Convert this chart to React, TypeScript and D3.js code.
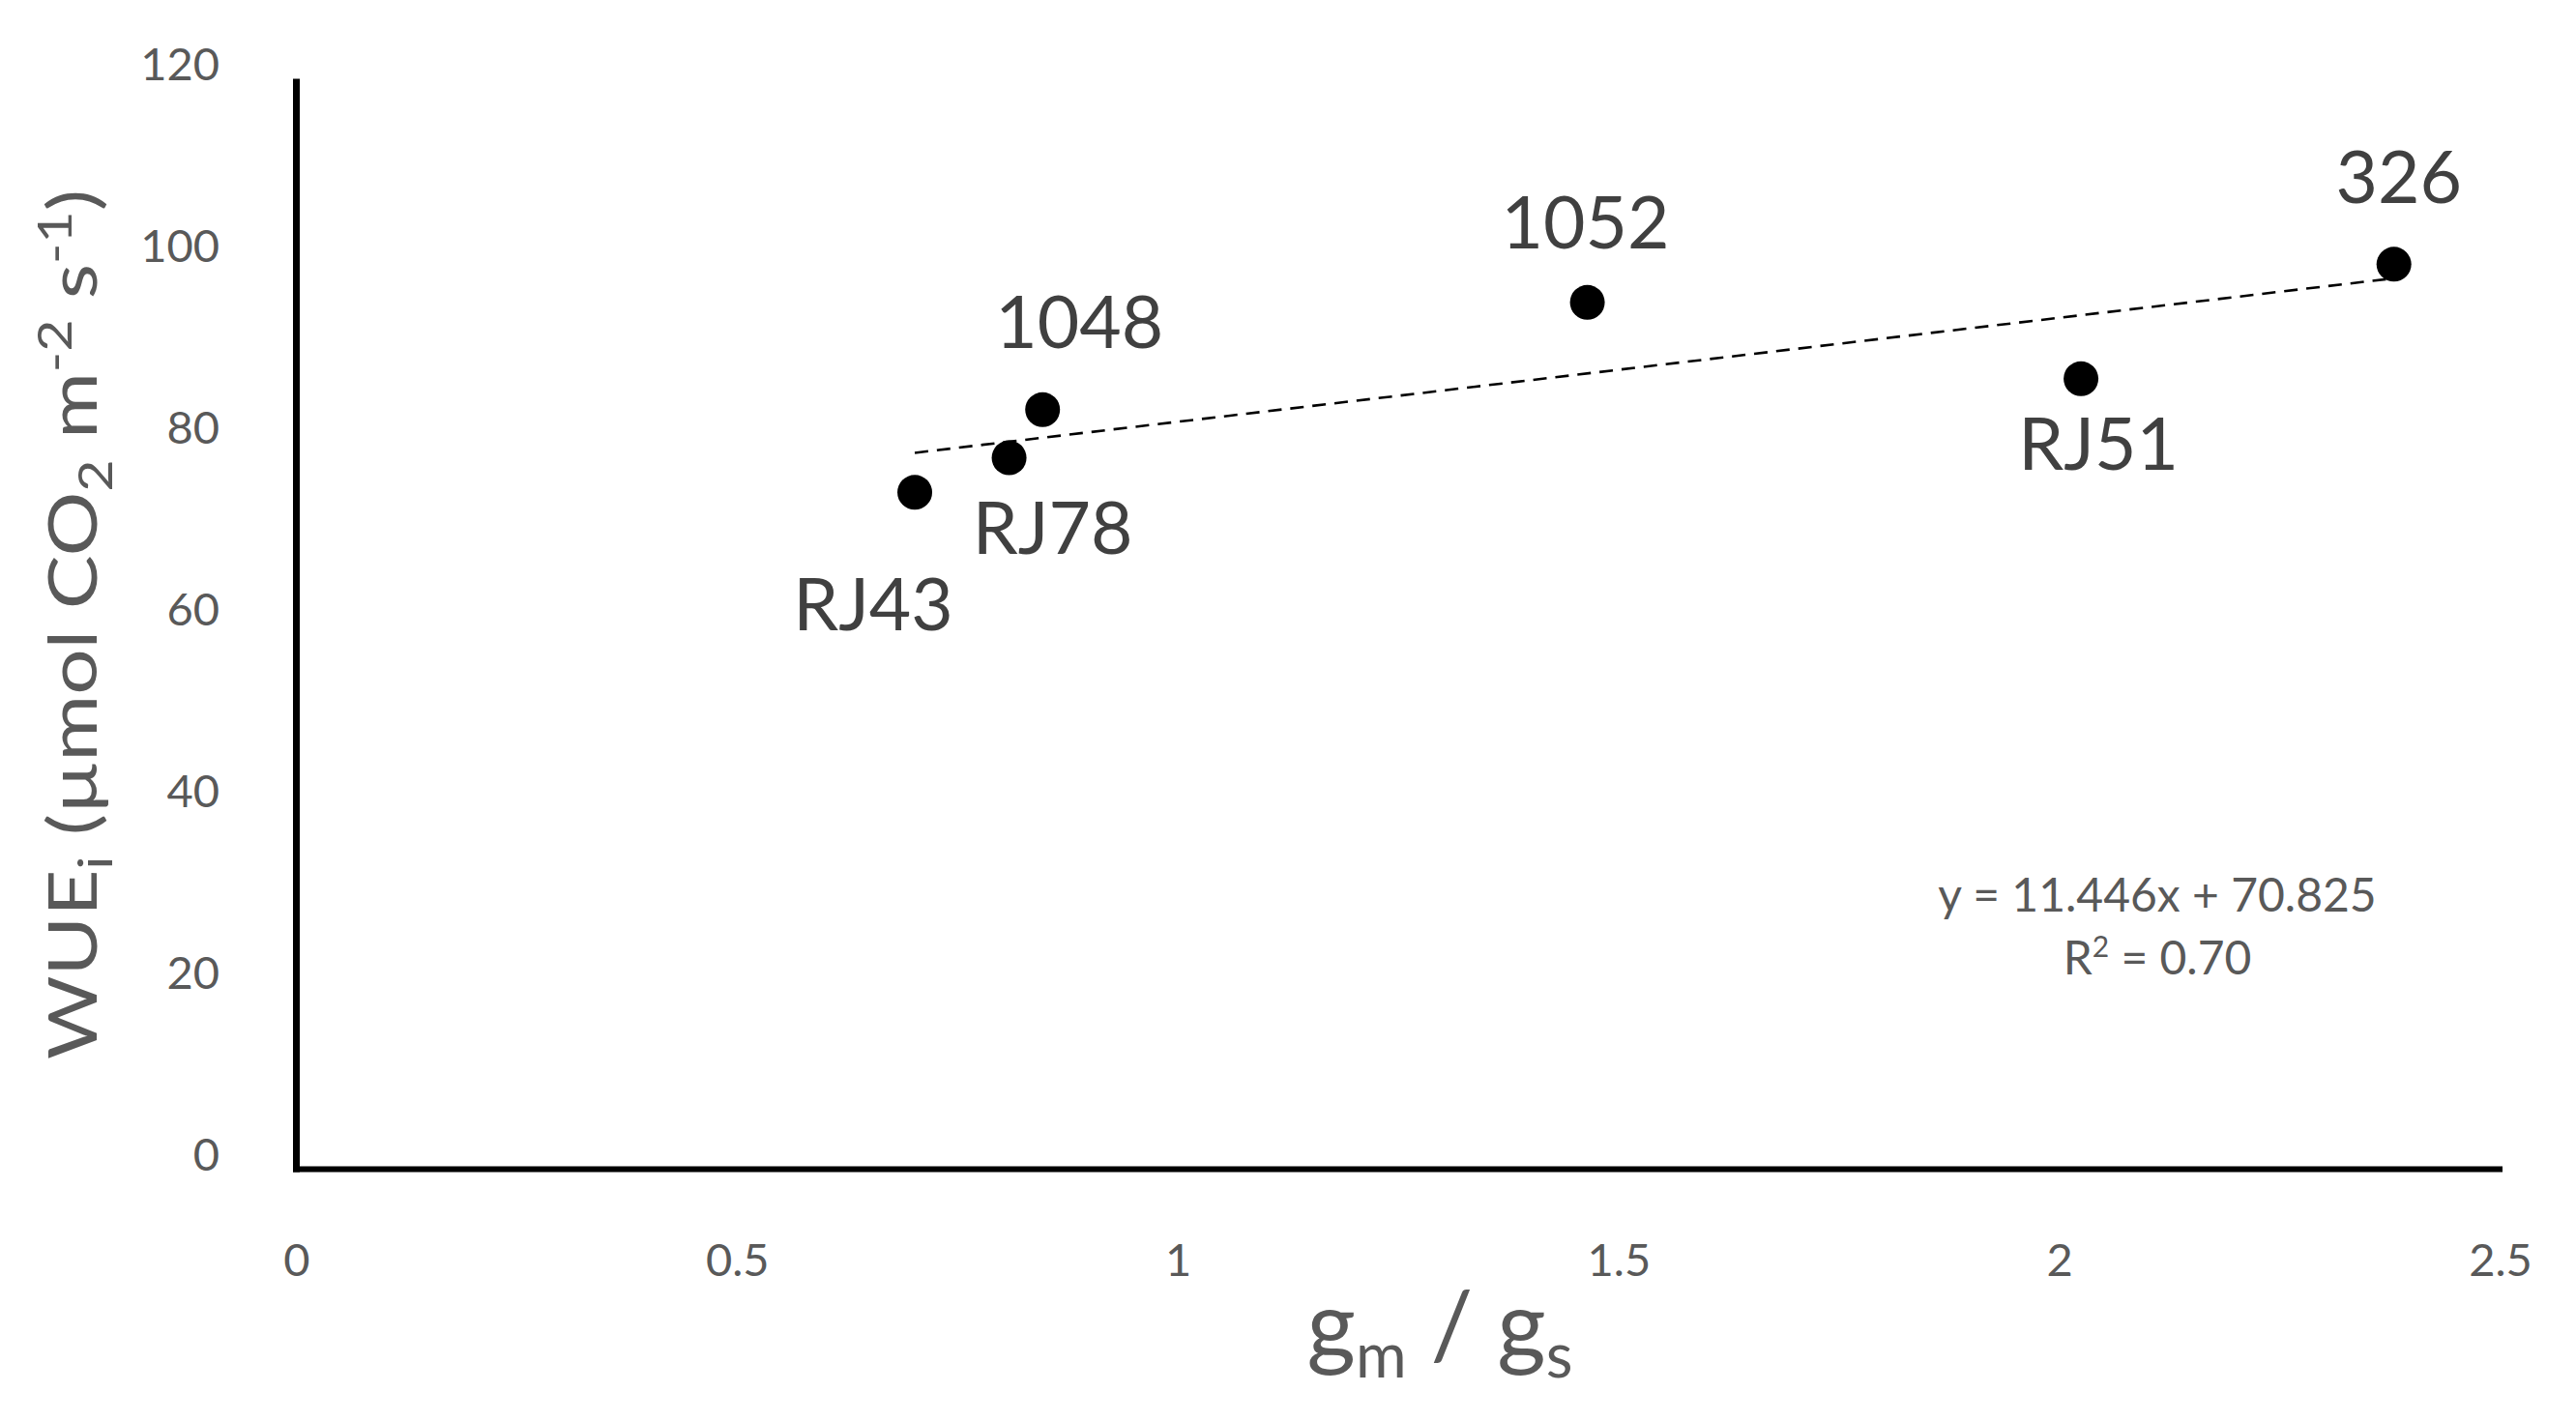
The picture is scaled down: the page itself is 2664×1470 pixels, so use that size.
import React from "react";
import * as d3 from "d3";

// ---- data ----
const pointNames: string[] = ["RJ43", "RJ78", "1048", "1052", "RJ51", "326"];
const gmGs: number[] = [0.701, 0.808, 0.846, 1.464, 2.024, 2.379];
const wueI: number[] = [74.5, 78.3, 83.6, 95.4, 87.0, 99.6];
const xTickValues: number[] = [0, 0.5, 1, 1.5, 2, 2.5];
const yTickValues: number[] = [0, 20, 40, 60, 80, 100, 120];
const trendSlope = 11.446;
const trendIntercept = 70.825;
const trendR2 = "0.70";

// ---- layout (label placement relative to point, px) ----
const labelOffsets: [number, number][] = [
  [-43, 143],
  [45, 99],
  [38, -64],
  [-2, -56],
  [18, 94],
  [5, -63],
];

const W = 2664;
const H = 1470;
const FONT = "Lato, 'Open Sans', sans-serif";
const GRAY = "#595959";
const DARK = "#404040";

export default function App() {
  const x = d3.scaleLinear().domain([0, 2.5]).range([307, 2586]);
  const y = d3.scaleLinear().domain([0, 120]).range([1209.6, 81.6]);

  const xMin = d3.min(gmGs) as number;
  const xMax = d3.max(gmGs) as number;
  const trendLine = d3
    .line<number>()
    .x((d) => x(d))
    .y((d) => y(trendSlope * d + trendIntercept));

  const fmt = (v: number) => String(v);

  return (
    <svg
      width={W}
      height={H}
      viewBox={`0 0 ${W} ${H}`}
      style={{ position: "absolute", left: 0, top: 0, display: "block", background: "#fff" }}
      fontFamily={FONT}
    >
      <rect x={0} y={0} width={W} height={H} fill="#fff" />

      {/* y tick labels */}
      {yTickValues.map((v) => (
        <text
          key={"yt" + v}
          x={227}
          y={y(v) - 17}
          textAnchor="end"
          dominantBaseline="central"
          fontSize={47}
          fill={GRAY}
        >
          {fmt(v)}
        </text>
      ))}

      {/* x tick labels */}
      {xTickValues.map((v) => (
        <text
          key={"xt" + v}
          x={x(v)}
          y={1302}
          textAnchor="middle"
          dominantBaseline="central"
          fontSize={47}
          fill={GRAY}
        >
          {fmt(v)}
        </text>
      ))}

      {/* axes */}
      <line x1={x(0) - 0.5} x2={x(0) - 0.5} y1={y(120)} y2={y(0) + 3} stroke="#000" strokeWidth={7} />
      <line x1={x(0) - 4} x2={x(2.5) + 2} y1={y(0)} y2={y(0)} stroke="#000" strokeWidth={6} />

      {/* trendline */}
      <path
        d={trendLine([xMin, xMax]) || ""}
        fill="none"
        stroke="#000"
        strokeWidth={2.6}
        strokeDasharray="14 9"
      />

      {/* points */}
      {gmGs.map((gx, i) => (
        <circle key={"p" + i} cx={x(gx)} cy={y(wueI[i])} r={18} fill="#000" />
      ))}

      {/* point labels */}
      {gmGs.map((gx, i) => (
        <text
          key={"l" + i}
          x={x(gx) + labelOffsets[i][0]}
          y={y(wueI[i]) + labelOffsets[i][1]}
          textAnchor="middle"
          fontSize={75}
          fill={DARK}
        >
          {pointNames[i]}
        </text>
      ))}

      {/* regression equation */}
      <text x={2231} y={943} textAnchor="middle" fontSize={48} fill={GRAY}>
        {`y = ${trendSlope}x + ${trendIntercept}`}
      </text>
      <text x={2231} y={1008} textAnchor="middle" fontSize={48} fill={GRAY}>
        R
        <tspan dy={-18} fontSize={30}>2</tspan>
        <tspan dy={18}>{` = ${trendR2}`}</tspan>
      </text>

      {/* x axis title */}
      <text x={1489} y={1405} textAnchor="middle" fontSize={97} fill={GRAY}>
        g
        <tspan dy={20} fontSize={64}>m</tspan>
        <tspan dy={-20}>{" / g"}</tspan>
        <tspan dy={20} fontSize={64}>s</tspan>
      </text>

      {/* y axis title */}
      <text
        transform="translate(100,646) rotate(-90)"
        textAnchor="middle"
        fontSize={70}
        fill={GRAY}
        textLength={900}
        lengthAdjust="spacingAndGlyphs"
      >
        WUE
        <tspan dy={16} fontSize={48}>i</tspan>
        <tspan dy={-16}>{" (µmol CO"}</tspan>
        <tspan dy={16} fontSize={48}>2</tspan>
        <tspan dy={-16}>{" m"}</tspan>
        <tspan dy={-26} fontSize={48}>-2</tspan>
        <tspan dy={26}>{" s"}</tspan>
        <tspan dy={-26} fontSize={48}>-1</tspan>
        <tspan dy={26}>{")"}</tspan>
      </text>
    </svg>
  );
}
